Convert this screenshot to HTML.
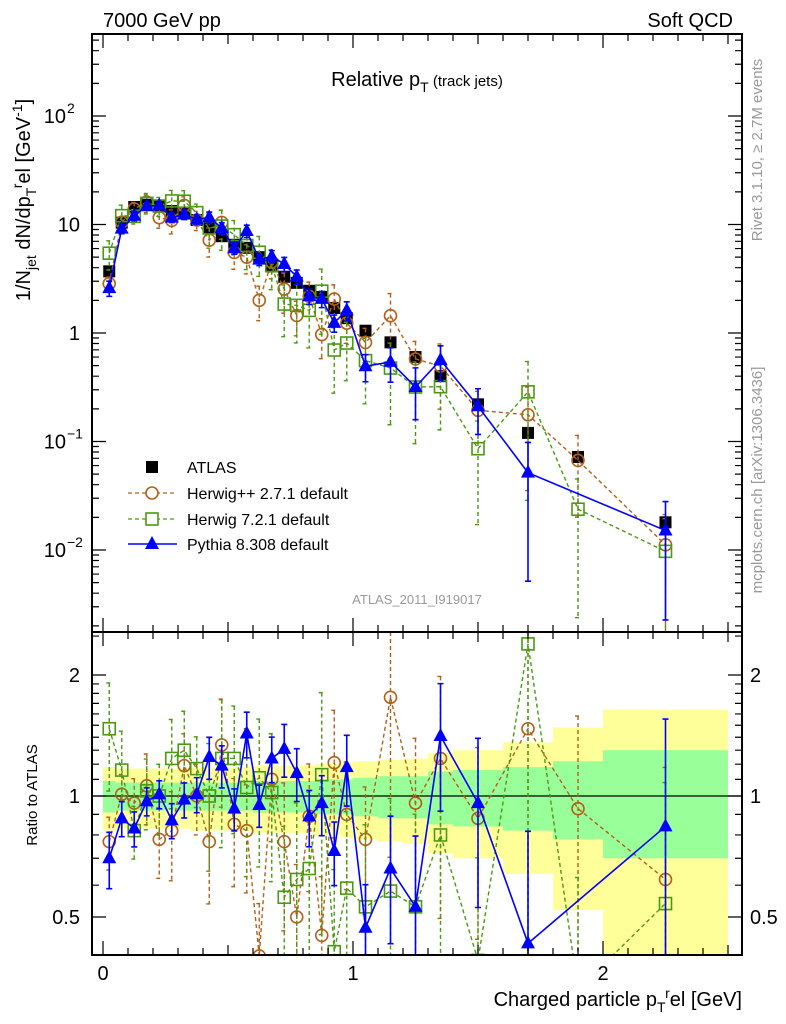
<!DOCTYPE html>
<html><head><meta charset="utf-8">
<style>
html,body{margin:0;padding:0;background:#fff;width:786px;height:1024px;overflow:hidden;}
svg{display:block;font-family:"Liberation Sans",Arial,sans-serif;overflow:hidden;}
</style></head>
<body>
<svg id="chart" width="786" height="1024" viewBox="0 0 786 1024" xmlns="http://www.w3.org/2000/svg">
  <defs>
    <clipPath id="clipMain"><rect x="92" y="34" width="650" height="598"/></clipPath>
    <clipPath id="clipRatio"><rect x="92" y="632" width="650" height="323"/></clipPath>
  </defs>
  <g id="bands" clip-path="url(#clipRatio)"></g>
  <g id="gMain" clip-path="url(#clipMain)"></g>
  <g id="gRatio" clip-path="url(#clipRatio)"></g>
  <g id="axes"></g>

  <text x="103" y="27" font-size="20">7000 GeV pp</text>
  <text x="733" y="27" font-size="20" text-anchor="end">Soft QCD</text>
  <text x="417" y="86" font-size="20" text-anchor="middle">Relative p<tspan font-size="14" dy="6">T</tspan><tspan font-size="15" dy="-6"> (track jets)</tspan></text>
  <text x="417" y="604" font-size="13" fill="#999" text-anchor="middle">ATLAS_2011_I919017</text>

  <text transform="translate(30,200) rotate(-90)" font-size="20" text-anchor="middle">1/N<tspan font-size="14" dy="6">jet</tspan><tspan dy="-6"> dN/dp</tspan><tspan font-size="14" dy="6">T</tspan><tspan font-size="14" dy="-14">r</tspan><tspan dy="8">el [GeV</tspan><tspan font-size="14" dy="-8">-1</tspan><tspan dy="8">]</tspan></text>
  <text transform="translate(37,795) rotate(-90)" font-size="15" text-anchor="middle">Ratio to ATLAS</text>
  <text x="742" y="1006" font-size="20" text-anchor="end">Charged particle p<tspan font-size="14" dy="6">T</tspan><tspan font-size="14" dy="-14">r</tspan><tspan dy="8">el [GeV]</tspan></text>
  <text transform="translate(762,150) rotate(-90)" font-size="15" fill="#999" text-anchor="middle">Rivet 3.1.10, ≥ 2.7M events</text>
  <text transform="translate(762,480) rotate(-90)" font-size="15" fill="#999" text-anchor="middle">mcplots.cern.ch [arXiv:1306.3436]</text>

  <g id="legend">
    <g>
      <rect x="146" y="461" width="12" height="12" fill="#000"/>
      <text x="187" y="473" font-size="16">ATLAS</text>
    </g>
    <g>
      <line x1="128" y1="493" x2="177" y2="493" stroke="#b3601a" stroke-width="1.3" stroke-dasharray="4,3"/>
      <circle cx="152" cy="493" r="6" fill="#fff" stroke="#b3601a" stroke-width="1.6"/>
      <text x="187" y="499" font-size="16">Herwig++ 2.7.1 default</text>
    </g>
    <g>
      <line x1="128" y1="519" x2="177" y2="519" stroke="#4a9a10" stroke-width="1.3" stroke-dasharray="4,3"/>
      <rect x="146" y="513" width="12" height="12" fill="#fff" stroke="#4a9a10" stroke-width="1.6"/>
      <text x="187" y="525" font-size="16">Herwig 7.2.1 default</text>
    </g>
    <g>
      <line x1="128" y1="544" x2="177" y2="544" stroke="#0000ff" stroke-width="1.5"/>
      <polygon points="152,536 159,549 145,549" fill="#0000ff"/>
      <text x="187" y="550" font-size="16">Pythia 8.308 default</text>
    </g>
  </g>
</svg>
<script>
// ---- data ----
const binCenters = [0.025,0.075,0.125,0.175,0.225,0.275,0.325,0.375,0.425,0.475,0.525,0.575,0.625,0.675,0.725,0.775,0.825,0.875,0.925,0.975,1.05,1.15,1.25,1.35,1.5,1.7,1.9,2.25];
const binEdges = [0,0.05,0.1,0.15,0.2,0.25,0.3,0.35,0.4,0.45,0.5,0.55,0.6,0.65,0.7,0.75,0.8,0.85,0.9,0.95,1.0,1.1,1.2,1.3,1.4,1.6,1.8,2.0,2.5];
const atlasValues = [3.7,10.4,14.5,15.2,14.8,13.3,12.6,11.0,9.3,7.8,6.5,6.1,5.0,4.1,3.3,2.9,2.45,2.15,1.7,1.37,1.05,0.82,0.6,0.4,0.22,0.12,0.072,0.018];
const atlasStatRel = [0.09,0.08,0.08,0.08,0.08,0.08,0.08,0.08,0.08,0.08,0.08,0.08,0.09,0.09,0.09,0.09,0.09,0.1,0.1,0.1,0.11,0.12,0.12,0.15,0.16,0.18,0.22,0.3];
const atlasTotRel = [0.18,0.17,0.17,0.17,0.17,0.17,0.17,0.18,0.18,0.18,0.18,0.18,0.19,0.19,0.19,0.19,0.19,0.2,0.2,0.21,0.22,0.23,0.24,0.28,0.3,0.36,0.48,0.64];
const herwigppRatio = [0.77,1.01,0.96,1.06,0.78,0.82,1.19,1.0,0.77,1.34,0.85,0.82,0.40,1.10,0.77,0.50,0.89,0.45,1.21,0.90,0.78,1.76,0.96,1.24,0.88,1.47,0.93,0.62];
const herwigppErr = [0.15,0.12,0.15,0.2,0.2,0.25,0.2,0.2,0.3,0.3,0.3,0.3,0.35,0.3,0.4,0.35,0.35,0.4,0.35,0.35,0.35,0.6,0.45,0.6,0.5,0.8,0.7,0.9];
const herwig7Ratio = [1.47,1.16,0.82,1.03,1.0,1.24,1.30,1.17,1.0,1.24,1.24,1.05,1.11,1.02,0.56,0.62,0.66,1.13,0.41,0.59,0.53,0.58,0.53,0.80,0.39,2.39,0.33,0.54];
const herwig7Err = [0.3,0.25,0.15,0.2,0.2,0.25,0.25,0.2,0.35,0.4,0.35,0.4,0.4,0.4,0.5,0.55,0.55,0.6,0.6,0.55,0.6,0.7,0.7,0.6,0.8,0.9,0.9,1.0];
const pythiaRatio = [0.70,0.88,0.83,0.97,1.01,0.87,0.98,1.01,1.25,1.19,0.93,1.43,0.95,1.24,1.31,1.14,0.89,0.96,0.73,1.18,0.47,0.66,0.53,1.41,0.96,0.43,null,0.84];
const pythiaErr = [0.16,0.1,0.1,0.08,0.08,0.1,0.1,0.1,0.12,0.12,0.12,0.13,0.12,0.13,0.15,0.15,0.16,0.17,0.18,0.2,0.28,0.35,0.5,0.35,0.45,0.9,0,0.85];
const yMainTicks = [{v:100,l:"10",e:"2"},{v:10,l:"10",e:""},{v:1,l:"1",e:""},{v:0.1,l:"10",e:"−1"},{v:0.01,l:"10",e:"−2"}];
const ratioTicks = [{v:2,l:"2"},{v:1,l:"1"},{v:0.5,l:"0.5"}];
const xTicks = [{v:0,l:"0"},{v:1,l:"1"},{v:2,l:"2"}];

// ---- scales ----
const L=92,R=742,T=34,MB=632,RB=955;
const X=v=>103+250*v;
const YM=v=>333-108.5*Math.log10(v);
const YR=r=>796-121*Math.log2(r);
const clamp=(v,a,b)=>Math.min(b,Math.max(a,v));
const NS="http://www.w3.org/2000/svg";
function mk(tag,attrs,parent){const e=document.createElementNS(NS,tag);for(const k in attrs)e.setAttribute(k,attrs[k]);parent.appendChild(e);return e;}
const gMain=document.getElementById('gMain'),gRatio=document.getElementById('gRatio'),bands=document.getElementById('bands'),axes=document.getElementById('axes');

for(let i=0;i<binCenters.length;i++){
  const x0=X(binEdges[i]),x1=X(binEdges[i+1]);
  const top=clamp(YR(1+atlasTotRel[i]),MB,RB),bot=clamp(YR(Math.max(0.05,1-atlasTotRel[i])),MB,RB);
  const y=mk('rect',{x:x0,y:top,width:x1-x0,height:bot-top,fill:'#ffff99'},bands);
  
  
}
for(let i=0;i<binCenters.length;i++){
  const x0=X(binEdges[i]),x1=X(binEdges[i+1]);
  const g=mk('rect',{x:x0,y:YR(1+atlasStatRel[i]),width:x1-x0,height:YR(1-atlasStatRel[i])-YR(1+atlasStatRel[i]),fill:'#99ff99'},bands);
  
  
}
const one=mk('line',{x1:L,x2:R,y1:YR(1),y2:YR(1),stroke:'#000','stroke-width':1.2},bands);



function marker(shape,x,y,color,parent){
  let e;
  if(shape==='circle') e=mk('circle',{cx:x,cy:y,r:6,fill:'none',stroke:color,'stroke-width':1.6},parent);
  else if(shape==='osq') e=mk('rect',{x:x-6,y:y-6,width:12,height:12,fill:'none',stroke:color,'stroke-width':1.6},parent);
  else if(shape==='sq') e=mk('rect',{x:x-6,y:y-6,width:12,height:12,fill:color},parent);
  else e=mk('polygon',{points:`${x},${y-8} ${x+7},${y+5} ${x-7},${y+5}`,fill:color},parent);
  return e;
}
function drawSeries(name,ratios,errs,color,shape,dash,lw){
  const pm=[],pr=[];
  ratios.forEach((r,i)=>{ if(r==null)return;
    const v=atlasValues[i]*r; pm.push([X(binCenters[i]),YM(v)]); pr.push([X(binCenters[i]),Math.min(1020,YR(r))]);});
  const lm=mk('polyline',{points:pm.map(p=>p.join(',')).join(' '),fill:'none',stroke:color,'stroke-width':lw,'stroke-dasharray':dash},gMain);
  
  
  const lr=mk('polyline',{points:pr.map(p=>p.join(',')).join(' '),fill:'none',stroke:color,'stroke-width':lw,'stroke-dasharray':dash},gRatio);
  
  
  ratios.forEach((r,i)=>{ if(r==null)return;
    const x=X(binCenters[i]),v=atlasValues[i]*r,e=errs[i];
    [[gMain,YM,v,T,MB],[gRatio,YR,r,MB,RB]].forEach(([g,Y,val,t,b])=>{
      const hi=clamp(Y(val*(1+e)),t,b),lo=clamp(Y(Math.max(val*(1-e),1e-4)),t,b);
      const eb=mk('path',{d:`M${x},${hi}V${lo}M${x-3},${hi}H${x+3}M${x-3},${lo}H${x+3}`,stroke:color,'stroke-width':lw,fill:'none','stroke-dasharray':dash},g);
      
      
      const yy=Y(val);
      if(yy<t-8||yy>b+8) return;
      const m=marker(shape,x,yy,color,g);
      
      
    });
  });
}
atlasValues.forEach((v,i)=>{
  const x=X(binCenters[i]);
  const m=marker('sq',x,YM(v),'#000',gMain);
  
  
});
drawSeries('herwigpp',herwigppRatio,herwigppErr,'#b3601a','circle','4,3',1.4);
drawSeries('herwig7',herwig7Ratio,herwig7Err,'#4a9a10','osq','4,3',1.4);
drawSeries('pythia',pythiaRatio,pythiaErr,'#0000ff','tri','',1.6);

[[T,MB],[MB,RB]].forEach(([t,b],k)=>{
  const f=mk('rect',{x:L,y:t,width:R-L,height:b-t,fill:'none',stroke:'#000','stroke-width':2},axes);
  
  
  for(let i=0;i<=25;i++){const v=i/10,x=X(v);const len=(i%10===0)?14:(i%5===0?10:7);
    mk('path',{d:`M${x},${b}v${-len}M${x},${t}v${len}`,stroke:'#000','stroke-width':1.2},axes);}
});
for(let d=-3;d<=2;d++){for(let m=1;m<=9;m++){const v=m*Math.pow(10,d),y=YM(v);if(y<T||y>MB)continue;
  const len=m===1?14:7;mk('path',{d:`M${L},${y}h${len}M${R},${y}h${-len}`,stroke:'#000','stroke-width':1.2},axes);}}
[0.4,0.5,0.6,0.7,0.8,0.9,1,1.1,1.2,1.3,1.4,1.5,1.6,1.7,1.8,1.9,2,2.5].forEach(v=>{const y=YR(v);if(y<MB||y>RB)return;
  const len=(v===0.5||v===1||v===2)?14:7;mk('path',{d:`M${L},${y}h${len}M${R},${y}h${-len}`,stroke:'#000','stroke-width':1.2},axes);});
yMainTicks.forEach(t=>{const y=YM(t.v);
  const tx=mk('text',{x:t.e?66:80,y:y+7,'font-size':20,'text-anchor':'end'},axes);tx.textContent=t.l;
  
  
  if(t.e){const s=mk('text',{x:67,y:y-3,'font-size':14},axes);s.textContent=t.e;
    
    }
});
ratioTicks.forEach(t=>{const y=YR(t.v);
  const a=mk('text',{x:80,y:y+7,'font-size':20,'text-anchor':'end'},axes);a.textContent=t.l;
  
  
  const b=mk('text',{x:750,y:y+7,'font-size':20},axes);b.textContent=t.l;
  
  
});
xTicks.forEach(t=>{const tx=mk('text',{x:X(t.v),y:980,'font-size':20,'text-anchor':'middle'},axes);tx.textContent=t.l;
  
  });
</script>
</body></html>
